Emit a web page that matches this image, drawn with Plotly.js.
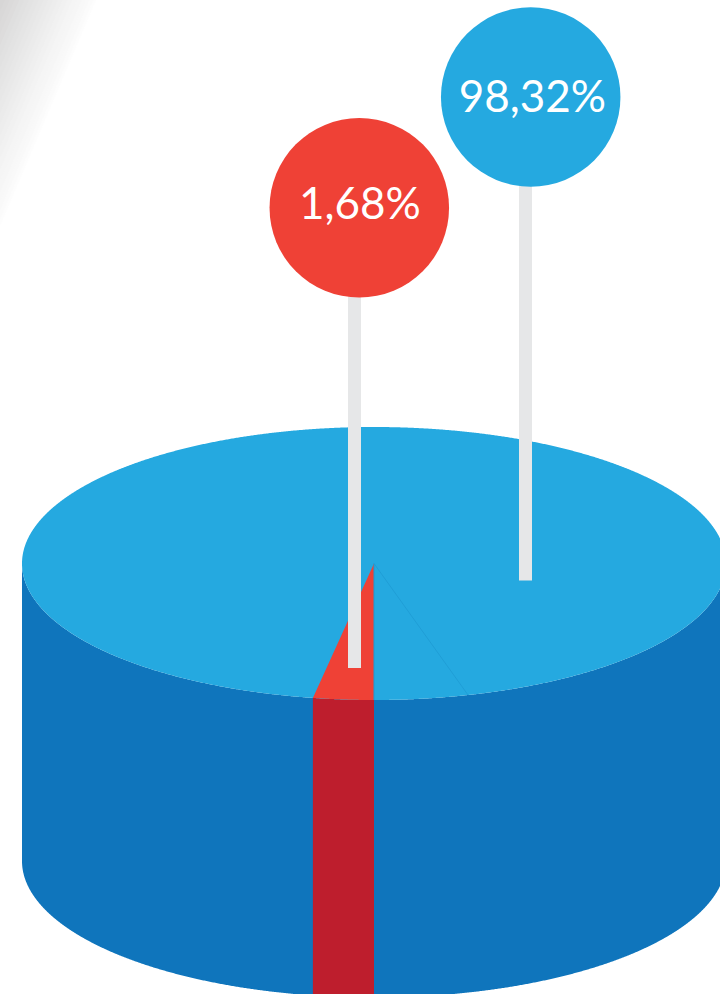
<!DOCTYPE html>
<html>
<head>
<meta charset="utf-8">
<script src="https://cdn.plot.ly/plotly-3.0.1.min.js"></script>
<style>html,body{margin:0;padding:0;background:#fff}#chart{width:720px;height:994px}</style>
</head>
<body>
<div id="chart"></div>
<script>
// Chart values
var categories = ['minority', 'majority'];
var shareLabels = ['1,68%', '98,32%'];
var shareValues = [1.68, 98.32];

// Slice edges as drawn in the picture (degrees from the front of the disc)
var redSliceAngles = [-10, 0];
var seamAngle = 15.5;

// Colours
var COL = {top: '#25A9E0', side: '#0F75BC', red: '#EF4136', redSide: '#BE1E2D', pole: '#E6E7E8',
           seam: '#1E9AD3', text: '#FFFFFF'};

// Cylinder geometry in pixels of the page-sized axes
var DISC = {cx: 374, cy: 563.5, rx: 352, ry: 136.5, drop: 297.5};

// Corner shading bands, outermost first
var bandScale = [1.00, 0.97, 0.93, 0.89, 0.85, 0.80, 0.75, 0.70, 0.65, 0.60, 0.55, 0.50, 0.45, 0.40, 0.35, 0.30, 0.25, 0.20, 0.15, 0.10, 0.05];
var bandColor = ['#FDFDFD', '#FBFBFB', '#F9F9F9', '#F8F8F8', '#F6F6F6', '#F5F5F5', '#F3F3F3', '#F1F1F1', '#EFEFEF', '#EDEDED',
                 '#EBEBEB', '#E9E9E9', '#E7E7E7', '#E5E5E5', '#E3E3E3', '#E1E1E1', '#DFDFDF', '#DDDCDC', '#DBDADA', '#D9D8D8', '#D7D6D6'];
var CORNER = {x: 96, y: 226};

// Lollipop markers
var LOLLI = {x: [359.3, 530.7], y: [207.8, 97], size: 179.5, poleX: [354.5, 525.5], poleEnd: [668, 580.5],
             textX: [359.8, 532.3], textY: [208, 101]};
var circleColor = [COL.red, COL.top];

function rad(d) { return d * Math.PI / 180; }
function pt(deg, dy) {
  return [DISC.cx + DISC.rx * Math.sin(rad(deg)), DISC.cy + (dy || 0) + DISC.ry * Math.cos(rad(deg))];
}
function arc(a, b, dy) {
  var out = [], n = Math.max(2, Math.ceil(Math.abs(b - a) * 5));
  for (var i = 0; i <= n; i++) out.push(pt(a + (b - a) * i / n, dy));
  return out;
}
function poly(points, color, name) {
  return {type: 'scatter', mode: 'lines', name: name, x: points.map(function (p) { return p[0]; }),
    y: points.map(function (p) { return p[1]; }), fill: 'toself', fillcolor: color,
    line: {width: 0, color: color, simplify: false}, hoverinfo: 'skip', showlegend: false};
}
function stroke(points, color, width, name) {
  return {type: 'scatter', mode: 'lines', name: name, x: points.map(function (p) { return p[0]; }),
    y: points.map(function (p) { return p[1]; }), line: {width: width, color: color}, hoverinfo: 'skip', showlegend: false};
}

var traces = [];

// corner shading
bandScale.forEach(function (s, i) {
  traces.push(poly([[0, 0], [CORNER.x * s, 0], [0, CORNER.y * s]], bandColor[i], 'shade' + i));
});

// cylinder wall
var wall = arc(-90, 90, 0).reverse().concat(arc(-90, 90, DISC.drop));
traces.push(poly(wall, COL.side, 'wall'));

// red wall segment
var r0 = redSliceAngles[0], r1 = redSliceAngles[1];
traces.push(poly(arc(r0, r1, 0).reverse().concat(arc(r0, r1, DISC.drop)), COL.redSide, 'redWall'));

// top disc
traces.push(poly(arc(0, 360, 0), COL.top, 'disc'));

// red slice on top
traces.push(poly([[DISC.cx, DISC.cy]].concat(arc(r0, r1, 0)), COL.red, categories[0] + ' ' + shareValues[0]));

// slice seams
traces.push(stroke([[DISC.cx, DISC.cy], pt(seamAngle)], COL.seam, 0.8, 'seam'));
traces.push(stroke([[DISC.cx, DISC.cy], pt(0)], COL.seam, 1, 'seam0'));

// poles
LOLLI.poleX.forEach(function (px, i) {
  traces.push(stroke([[px, LOLLI.y[i]], [px, LOLLI.poleEnd[i]]], COL.pole, 13, 'pole' + i));
});

// circles
traces.push({type: 'scatter', mode: 'markers', x: LOLLI.x, y: LOLLI.y, hoverinfo: 'skip', showlegend: false,
  marker: {size: LOLLI.size, color: circleColor, line: {width: 0}}});

// labels
traces.push({type: 'scatter', mode: 'text', x: LOLLI.textX, y: LOLLI.textY, text: shareLabels,
  textposition: 'middle center', hoverinfo: 'skip', showlegend: false,
  textfont: {family: 'Lato, sans-serif', size: 44, color: COL.text}});

var hidden = {visible: false, fixedrange: true};
var layout = {
  width: 720, height: 994, autosize: false,
  margin: {l: 0, r: 0, t: 0, b: 0, pad: 0},
  paper_bgcolor: '#FFFFFF', plot_bgcolor: '#FFFFFF', showlegend: false, hovermode: false,
  xaxis: Object.assign({range: [0, 720]}, hidden),
  yaxis: Object.assign({range: [994, 0]}, hidden)
};
Plotly.newPlot('chart', traces, layout, {displayModeBar: false, staticPlot: true});
</script>
</body>
</html>
